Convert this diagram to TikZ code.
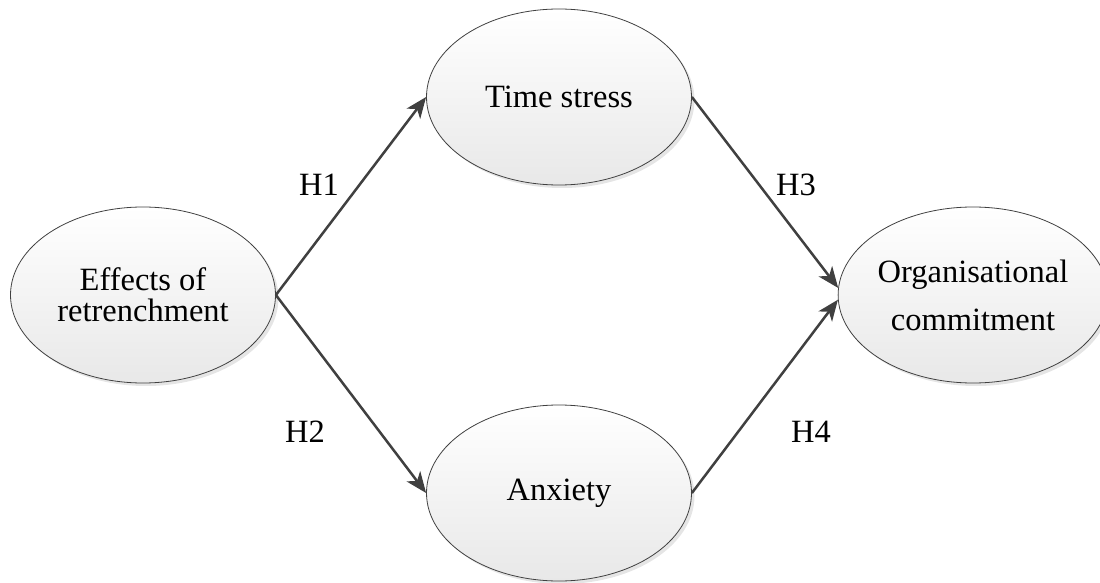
\documentclass[tikz,border=0pt]{standalone}
\usepackage{fontspec}
\setmainfont{Liberation Serif}
\usetikzlibrary{arrows.meta, positioning, calc, shapes.geometric, shadows}

\begin{document}
\begin{tikzpicture}[
			x=1pt, y=1pt,
			construct/.style={ellipse, draw=black!75, line width=0.8pt, minimum width=265pt, minimum height=176pt, inner sep=0pt, top color=white, bottom color=black!9, drop shadow={shadow xshift=3pt, shadow yshift=-3pt, opacity=0.25, fill=black!40}, align=center, font=\fontsize{32.5}{31}\selectfont},
			link/.style={-{Stealth[length=21pt, width=17pt, inset=6pt]}, line width=2.5pt, black!75},
			hlabel/.style={font=\fontsize{32.5}{31}\selectfont}
			]
			\useasboundingbox (0,0) rectangle (1100,582);
			
			% --- Constructos ---
			\node[construct] (eff) at (143, 287) {Effects of\\retrenchment};
			\node[construct] (time) at (559, 485) {Time stress};
			\node[construct] (anx) at (559, 89) {Anxiety};
			\node[construct, font=\fontsize{32.5}{48}\selectfont] (org) at (973, 287) {Organisational\\commitment};
			
			% --- Hipótesis ---
			\draw[link] (eff.east) -- (time.west);
			\draw[link] (eff.east) -- (anx.west);
			\draw[link] (time.east) -- (org.177);
			\draw[link] (anx.east) -- (org.182);
			
			% Etiquetas
			\node[hlabel] (h1) at (319, 397) {H1};
			\node[hlabel] (h2) at (305, 150) {H2};
			\node[hlabel] (h3) at (796, 397) {H3};
			\node[hlabel] (h4) at (811, 150) {H4};
			
		\end{tikzpicture}
\end{document}
